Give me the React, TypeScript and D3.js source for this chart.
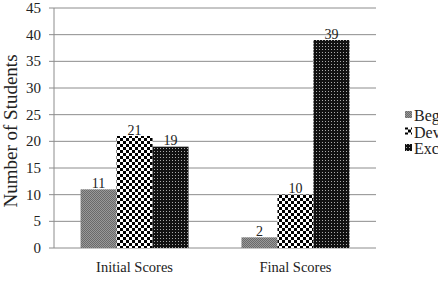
import React, { useEffect, useRef } from 'react';
import * as d3 from 'd3';

const categories = ['Initial Scores', 'Final Scores'];
const series = ['Beginning', 'Developing', 'Exceeding'];
const beginning = [11, 2];
const developing = [21, 10];
const exceeding = [19, 39];
const yTicks = [0, 5, 10, 15, 20, 25, 30, 35, 40, 45];

const App: React.FC = () => {
  const svgRef = useRef<SVGSVGElement>(null);

  useEffect(() => {
    const width = 438;
    const height = 287;
    const left = 54;
    const right = 376;
    const top = 8;
    const bottom = 248;
    const font = "'Liberation Serif', 'DejaVu Serif', serif";

    const svg = d3.select(svgRef.current);
    svg.selectAll('*').remove();
    svg.attr('width', width).attr('height', height);

    // fill patterns
    const defs = svg.append('defs');
    const p1 = defs.append('pattern').attr('id', 'pBeg').attr('patternUnits', 'userSpaceOnUse')
      .attr('width', 2).attr('height', 2);
    p1.append('rect').attr('width', 2).attr('height', 2).attr('fill', '#999');
    p1.append('rect').attr('width', 1).attr('height', 1).attr('fill', '#6a6a6a');
    p1.append('rect').attr('x', 1).attr('y', 1).attr('width', 1).attr('height', 1).attr('fill', '#6a6a6a');

    const p2 = defs.append('pattern').attr('id', 'pDev').attr('patternUnits', 'userSpaceOnUse')
      .attr('width', 6).attr('height', 6);
    p2.append('rect').attr('width', 6).attr('height', 6).attr('fill', '#fff');
    p2.append('rect').attr('width', 3).attr('height', 3).attr('fill', '#000');
    p2.append('rect').attr('x', 3).attr('y', 3).attr('width', 3).attr('height', 3).attr('fill', '#000');

    const p3 = defs.append('pattern').attr('id', 'pExc').attr('patternUnits', 'userSpaceOnUse')
      .attr('width', 3).attr('height', 3);
    p3.append('rect').attr('width', 3).attr('height', 3).attr('fill', '#111');
    p3.append('rect').attr('x', 1).attr('y', 1).attr('width', 1).attr('height', 1).attr('fill', '#aaa');

    const fills: Record<string, string> = {
      Beginning: 'url(#pBeg)',
      Developing: 'url(#pDev)',
      Exceeding: 'url(#pExc)',
    };
    const values: Record<string, number[]> = {
      Beginning: beginning,
      Developing: developing,
      Exceeding: exceeding,
    };

    const x0 = d3.scaleBand().domain(categories).range([left, right])
      .paddingInner(0.329).paddingOuter(0.165);
    const x1 = d3.scaleBand().domain(series).range([0, x0.bandwidth()]);
    const y = d3.scaleLinear().domain([0, 45]).range([bottom, top]);

    // gridlines
    svg.append('g').selectAll('line').data(yTicks).enter().append('line')
      .attr('x1', left - 5).attr('x2', right)
      .attr('y1', d => y(d)).attr('y2', d => y(d))
      .attr('stroke', '#8c8c8c').attr('stroke-width', 1);

    // y axis line
    svg.append('line').attr('x1', left).attr('x2', left).attr('y1', top).attr('y2', bottom)
      .attr('stroke', '#8c8c8c');

    // y tick labels
    svg.append('g').selectAll('text').data(yTicks).enter().append('text')
      .attr('x', left - 13).attr('y', d => y(d) + 5)
      .attr('text-anchor', 'end').style('font-family', font).style('font-size', '15px')
      .attr('fill', '#222').text(d => d);

    // bars
    series.forEach(s => {
      const g = svg.append('g');
      g.selectAll('rect').data(categories).enter().append('rect')
        .attr('x', (c) => (x0(c) || 0) + (x1(s) || 0))
        .attr('y', (c, i) => y(values[s][i]))
        .attr('width', x1.bandwidth())
        .attr('height', (c, i) => bottom - y(values[s][i]))
        .attr('fill', fills[s]);
      g.selectAll('text').data(categories).enter().append('text')
        .attr('x', (c) => (x0(c) || 0) + (x1(s) || 0) + x1.bandwidth() / 2)
        .attr('y', (c, i) => y(values[s][i]) - 1.5)
        .attr('text-anchor', 'middle').style('font-family', font).style('font-size', '14px')
        .attr('fill', '#222').text((c, i) => values[s][i]);
    });

    // x category labels
    svg.append('g').selectAll('text').data(categories).enter().append('text')
      .attr('x', c => (x0(c) || 0) + x0.bandwidth() / 2)
      .attr('y', 272)
      .attr('text-anchor', 'middle').style('font-family', font).style('font-size', '14.5px')
      .attr('fill', '#222').text(c => c);

    // y title
    svg.append('text')
      .attr('transform', `translate(17, 131) rotate(-90)`)
      .attr('text-anchor', 'middle').style('font-family', font).style('font-size', '19px')
      .attr('fill', '#222').text('Number of Students');

    // legend
    const legend = svg.append('g').selectAll('g').data(series).enter().append('g')
      .attr('transform', (d, i) => `translate(405, ${116 + i * 16.5})`);
    legend.append('rect').attr('x', 0).attr('y', -5).attr('width', 7).attr('height', 7)
      .attr('fill', d => fills[d]);
    legend.append('text').attr('x', 9).attr('y', 5)
      .style('font-family', font).style('font-size', '16px').attr('fill', '#222').text(d => d);
  }, []);

  return <svg ref={svgRef} style={{ position: 'absolute', left: 0, top: 0 }}></svg>;
};

export default App;
